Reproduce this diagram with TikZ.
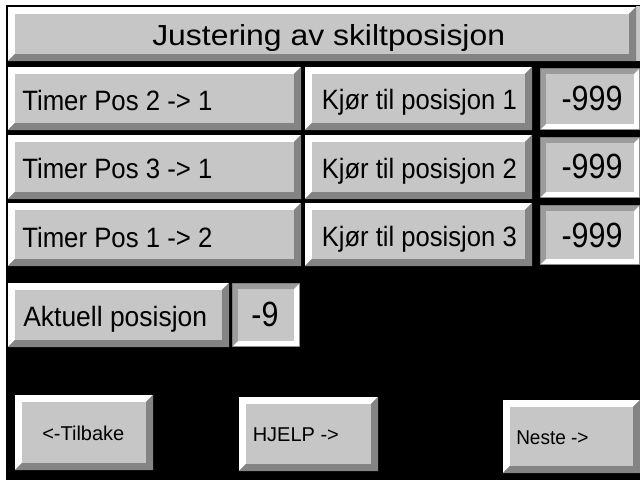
\documentclass[tikz,border=0pt]{standalone}
\usepackage{fontspec}
\setmainfont{Liberation Sans}
\usepackage{graphicx}
\definecolor{btnface}{HTML}{C6C6C6}
\definecolor{btnsh}{HTML}{848484}
\definecolor{sunkdark}{HTML}{9C9C9C}
\definecolor{sunkline}{HTML}{7F7F7F}
% raised button: x1 y1 x2 y2 bevel
\newcommand\RBtn[5]{%
  \fill[white] (#1,#2) -- (#3,#2) -- (#3-#5,#2+#5) -- (#1+#5,#2+#5) -- (#1+#5,#4-#5) -- (#1,#4) -- cycle;
  \fill[btnsh] (#3,#2) -- (#3,#4) -- (#1,#4) -- (#1+#5,#4-#5) -- (#3-#5,#4-#5) -- (#3-#5,#2+#5) -- cycle;
  \fill[btnface] (#1+#5,#2+#5) rectangle (#3-#5,#4-#5);}
% sunken box: x1 y1 x2 y2 bevel
\newcommand\SBox[5]{%
  \fill[sunkline] (#1,#2) rectangle (#3,#4);
  \fill[sunkdark] (#1+1,#2+1) -- (#3-1,#2+1) -- (#3-1-#5,#2+1+#5) -- (#1+1+#5,#2+1+#5) -- (#1+1+#5,#4-1-#5) -- (#1+1,#4-1) -- cycle;
  \fill[white] (#3-1,#2+1) -- (#3-1,#4-1) -- (#1+1,#4-1) -- (#1+1+#5,#4-1-#5) -- (#3-1-#5,#4-1-#5) -- (#3-1-#5,#2+1+#5) -- cycle;
  \fill[btnface] (#1+1+#5,#2+1+#5) rectangle (#3-1-#5,#4-1-#5);}
\tikzset{
  titletxt/.style={anchor=base west, inner sep=0pt, font=\fontsize{21.75}{22}\selectfont},
  rowtxt/.style={anchor=base west, inner sep=0pt, font=\fontsize{21}{22}\selectfont},
  valtxt/.style={anchor=base, inner sep=0pt, font=\fontsize{26.25}{27}\selectfont},
  smalltxt/.style={anchor=base west, inner sep=0pt, font=\fontsize{15}{16}\selectfont},
}
\begin{document}
\begin{tikzpicture}[x=0.75pt,y=-0.75pt]
\useasboundingbox (0,0) rectangle (640,480);
\fill[white] (0,0) rectangle (640,480);
\fill[black] (6,5) rectangle (640,480);
\fill[btnface] (636,6) rectangle (640,61);
% title
\RBtn{8}{7}{636}{61}{7}
\node[titletxt] (title) at (152,45) {\scalebox{1.1}[1]{Justering av skiltposisjon}};
% rows
\RBtn{8}{67}{301}{130}{7}
\RBtn{305}{67}{532}{130}{7}
\SBox{540}{68}{640}{130}{5}
\RBtn{8}{135}{301}{199}{7}
\RBtn{305}{135}{532}{199}{7}
\SBox{540}{137}{640}{198}{5}
\RBtn{8}{203}{301}{266}{7}
\RBtn{305}{203}{532}{266}{7}
\SBox{540}{205}{640}{265}{5}
\node[rowtxt] (timer1) at (22,110) {\scalebox{0.92}[1]{Timer Pos 2 -> 1}};
\node[rowtxt] (timer2) at (22,178) {\scalebox{0.92}[1]{Timer Pos 3 -> 1}};
\node[rowtxt] (timer3) at (22,247) {\scalebox{0.92}[1]{Timer Pos 1 -> 2}};
\node[rowtxt] (kjor1) at (321.5,109.5) {\scalebox{0.915}[1]{Kjør til posisjon 1}};
\node[rowtxt] (kjor2) at (321.5,178.3) {\scalebox{0.915}[1]{Kjør til posisjon 2}};
\node[rowtxt] (kjor3) at (321.5,246.7) {\scalebox{0.915}[1]{Kjør til posisjon 3}};
\node[valtxt] (val1) at (592,110) {\scalebox{0.87}[1]{-999}};
\node[valtxt] (val2) at (592,178.3) {\scalebox{0.87}[1]{-999}};
\node[valtxt] (val3) at (592,247) {\scalebox{0.87}[1]{-999}};
% current position
\RBtn{8}{283}{229}{347}{7}
\SBox{232}{283}{300}{347}{5}
\node[rowtxt] (akt) at (23,326.7) {\scalebox{0.945}[1]{Aktuell posisjon}};
\node[valtxt] (aktval) at (265,326.7) {\scalebox{0.87}[1]{-9}};
% bottom buttons
\RBtn{15}{395}{153}{470}{7}
\RBtn{239}{397}{378}{471}{7}
\RBtn{503}{400}{640}{473}{7}
\node[smalltxt] (back) at (42,440) {<-Tilbake};
\node[smalltxt] (help) at (252.5,441.5) {HJELP ->};
\node[smalltxt] (next) at (516,444) {\scalebox{0.95}[1]{Neste ->}};
\end{tikzpicture}
\end{document}
